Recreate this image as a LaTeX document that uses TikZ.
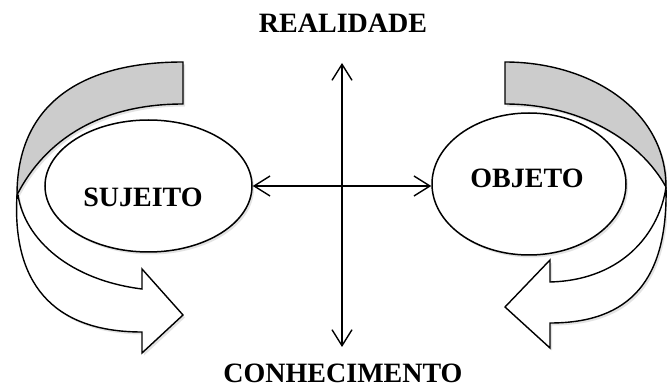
\documentclass[tikz,border=0pt]{standalone}
\usepackage{fontspec}
\setmainfont{Liberation Serif}
\usetikzlibrary{arrows.meta,shapes.geometric,shadows}
\begin{document}
\begin{tikzpicture}[x=1pt,y=-1pt,
  lbl/.style={font=\bfseries\fontsize{28}{30}\selectfont, inner sep=0pt, anchor=base},
  shd/.style={drop shadow={opacity=0.22,shadow xshift=2pt,shadow yshift=-2.5pt}},
  oval/.style={ellipse, draw, line width=1.5pt, fill=white, inner sep=0pt, shd},
  band/.style={draw, line width=1.4pt, line join=miter, shd},
  conn/.style={line width=1.4pt, {Straight Barb[length=16pt,width=20pt]}-{Straight Barb[length=16pt,width=20pt]}}]
\useasboundingbox[fill=white] (0,0) rectangle (667,387);

% left curved arrow
\path[band, fill=gray!40] (183,62) .. controls (80,62) and (17,105) .. (17,195)
   .. controls (45,140) and (100,104) .. (183,104) -- cycle;
\path[band, fill=white] (17,195) .. controls (12,280) and (50,332) .. (142,332)
   -- (142,353) -- (183,315) -- (142,269) -- (142,289)
   .. controls (70,280) and (25,240) .. (18,195) -- cycle;

% right curved arrow
\path[band, fill=gray!40] (505,62) .. controls (590,62) and (666,110) .. (666,187)
   .. controls (640,140) and (580,104) .. (505,104) -- cycle;
\path[band, fill=white] (666,187) .. controls (668,280) and (630,323) .. (550,323)
   -- (550,348) -- (505,307) -- (550,260) -- (550,282)
   .. controls (625,280) and (660,230) .. (666,187) -- cycle;

% ellipses
\node[oval, minimum width=207pt, minimum height=132pt] (suj) at (148.5,186) {};
\node[oval, minimum width=194pt, minimum height=142pt] (obj) at (529,184) {};

% texts
\node[lbl] (sujt) at (143,207) {SUJEITO};
\node[lbl] (objt) at (527,188) {OBJETO};
\node[lbl] (real) at (343,33) {REALIDADE};
\node[lbl] (conh) at (343,382) {CONHECIMENTO};

% connectors
\coordinate (vtop) at (342,63);
\coordinate (vbot) at (342,347);
\draw[conn] (vtop) -- (vbot);
\draw[conn] (suj.east) -- (suj.east -| obj.west);
\end{tikzpicture}
\end{document}
